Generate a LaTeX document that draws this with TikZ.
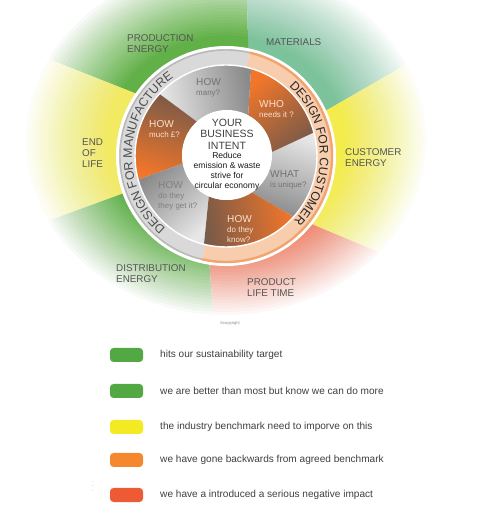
\documentclass[tikz,border=0pt]{standalone}
\usepackage{fontspec}
\setmainfont{Liberation Sans}
\usetikzlibrary{decorations.text}
\definecolor{prodgreen}{HTML}{62B048}
\definecolor{matgreen}{HTML}{7CC29A}
\definecolor{custyellow}{HTML}{F3EC4C}
\definecolor{lifeyellow}{HTML}{F1EA62}
\definecolor{distgreen}{HTML}{5BAE46}
\definecolor{lifered}{HTML}{F0785A}
\definecolor{petalorange}{HTML}{F1762A}
\definecolor{petalbrown}{HTML}{7A5A48}
\definecolor{petallight}{HTML}{E6E6E6}
\definecolor{petaldark}{HTML}{8A8A8A}
\definecolor{bandgrey}{HTML}{D9D9D9}
\definecolor{bandrim}{HTML}{B8B8B8}
\definecolor{bandpeach}{HTML}{F8CDAE}
\definecolor{peachrim}{HTML}{F2A46E}
\definecolor{labelgrey}{HTML}{555555}
\definecolor{petalink}{HTML}{FCE0CC}
\definecolor{keygreen}{HTML}{52A843}
\definecolor{keyyellow}{HTML}{F4EA24}
\definecolor{keyorange}{HTML}{F5882F}
\definecolor{keyred}{HTML}{EE5A33}

\begin{document}
\begin{tikzpicture}[x=0.03cm,y=0.03cm,
  outer label/.style={anchor=north west,inner sep=0,align=left,text=labelgrey,font=\fontsize{8.4}{9.6}\selectfont},
  petal text/.style={anchor=west,inner sep=0,align=left,font=\fontsize{6.8}{8.3}\selectfont},
  key box/.style={rounded corners=3pt,minimum width=0.99cm,minimum height=0.42cm,inner sep=0},
  key text/.style={anchor=west,inner sep=0,text=black!75,font=\fontsize{8.6}{10}\selectfont}]

  \useasboundingbox (0,0) rectangle (477,511);
  \fill[white] (0,0) rectangle (477,511);

  % outer sectors
  \begin{scope}[shift={(226,355)}]
    \foreach \a/\ao/\b/\bo/\col in {-40/-28/24/28/custyellow,24/28/77/87/matgreen,
        77/87/144/154/prodgreen,144/154/200/200/lifeyellow,
        200/200/260/270/distgreen,260/270/320/332/lifered}
      \fill[\col] (0,0) -- (\a:100) -- (\ao:320) arc[start angle=\ao,end angle=\bo,radius=320] -- (\b:100) -- cycle;
  \end{scope}

  % fade to white
  \foreach \i in {1,...,24} {
    \pgfmathsetmacro\sa{0.58+0.42*\i/24}
    \pgfmathsetmacro\op{1/(25-\i)}
    \fill[white,opacity=\op,even odd rule] (-10,-10) rectangle (490,520)
      (226,371) ellipse[x radius=200*\sa,y radius=175*\sa];
  }

  % wheel
  \begin{scope}[shift={(226,355)}]
    \fill[white] (0,0) circle[radius=110];
    \fill[bandgrey] (77:107) arc[start angle=77,end angle=257,radius=107] -- (257:91) arc[start angle=257,end angle=77,radius=91] -- cycle;
    \fill[bandpeach] (-103:107) arc[start angle=-103,end angle=77,radius=107] -- (77:91) arc[start angle=77,end angle=-103,radius=91] -- cycle;
    \draw[bandrim,line width=1.2] (77:106) arc[start angle=77,end angle=257,radius=106];
    \draw[peachrim,line width=2] (-103:106) arc[start angle=-103,end angle=77,radius=106];
    % petals
    \foreach \li/\lo/\ui/\uo/\ang/\colccw/\colcw in {-55/-42/4/15/-20/petallight/petaldark,
        4/15/60/74/38/petalorange/petalbrown,60/74/130/137/100/petallight/petaldark,
        130/137/190/195/162/petalorange/petalbrown,190/195/247/256/222/petallight/petaldark,
        247/256/305/318/280/petalorange/petalbrown}
      \shade[top color=\colccw,bottom color=\colcw,shading angle=\ang]
        (\li:44) -- (\lo:91) arc[start angle=\lo,end angle=\uo,radius=91] -- (\ui:44) arc[start angle=\ui,end angle=\li,radius=44] -- cycle;
    \draw[white,line width=1.2] (0,0) circle[radius=91];
    \path[decorate,decoration={text along path,text align=center,
      text={|\fontsize{10.5}{12}\selectfont\color{black!70}|DESIGN FOR MANUFACTURE}}]
      (238:94) arc[start angle=238,end angle=116,radius=94];
    \path[decorate,decoration={text along path,text align=center,
      text={|\fontsize{10.5}{12}\selectfont\color{black!85}|DESIGN FOR CUSTOMER}}]
      (50:94) arc[start angle=50,end angle=-46,radius=94];
  \end{scope}

  \node[circle,fill=white,minimum size=2.7cm,inner sep=0] (intent) at (227,356) {};
  \node[align=center,inner sep=0,text=black!75,font=\fontsize{9}{9.8}\selectfont] (intenttitle) at (227,377) {YOUR\\BUSINESS\\INTENT};
  \node[align=center,inner sep=0,text=black!90,font=\fontsize{7.3}{8.5}\selectfont] (intentnote) at (227,340) {Reduce\\emission \& waste\\strive for\\circular economy};

  \node[petal text,text=black!55] (howmany) at (196,423) {{\fontsize{8.6}{8.3}\selectfont HOW}\\many?};
  \node[petal text,text=petalink] (whoneeds) at (259,402) {{\fontsize{8.6}{8.3}\selectfont WHO}\\needs it ?};
  \node[petal text,text=petalink] (howmuch) at (149,382) {{\fontsize{8.6}{8.3}\selectfont HOW}\\much £?};
  \node[petal text,text=black!55] (whatunique) at (270,331) {{\fontsize{8.6}{8.3}\selectfont WHAT}\\is unique?};
  \node[petal text,text=black!50] (howget) at (158,315) {{\fontsize{8.6}{8.3}\selectfont HOW}\\do they\\they get it?};
  \node[petal text,text=petalink] (howknow) at (227,282) {{\fontsize{8.6}{8.3}\selectfont HOW}\\do they\\know?};

  \node[outer label] (production) at (127,476.5) {PRODUCTION\\ENERGY};
  \node[outer label] (materials) at (266,472.5) {MATERIALS};
  \node[outer label] (endoflife) at (82,372.5) {END\\OF\\LIFE};
  \node[outer label] (customer) at (345,362.5) {CUSTOMER\\ENERGY};
  \node[outer label] (distribution) at (116,246.5) {DISTRIBUTION\\ENERGY};
  \node[outer label] (lifetime) at (247,232.5) {PRODUCT\\LIFE TIME};

  \node[inner sep=0,text=black!45,font=\fontsize{3.5}{4}\selectfont] (copyright) at (230,188) {©copyright};

  % key
  \foreach \y/\col/\txt/\nm in {156/keygreen/{hits our sustainability target}/a,
      120/keygreen/{we are better than most but know we can do more}/b,
      84/keyyellow/{the industry benchmark need to imporve on this}/c,
      51/keyorange/{we have gone backwards from agreed benchmark}/d,
      16/keyred/{we have a introduced a serious negative impact}/e} {
    \node[key box,fill=\col] (box\nm) at (126.5,\y) {};
    \node[key text] (key\nm) at (160,\y) {\txt};
  }
  \node[inner sep=0,text=black!35,font=\fontsize{5}{5}\selectfont] (dots) at (93,28) {$\vdots$};
\end{tikzpicture}
\end{document}
